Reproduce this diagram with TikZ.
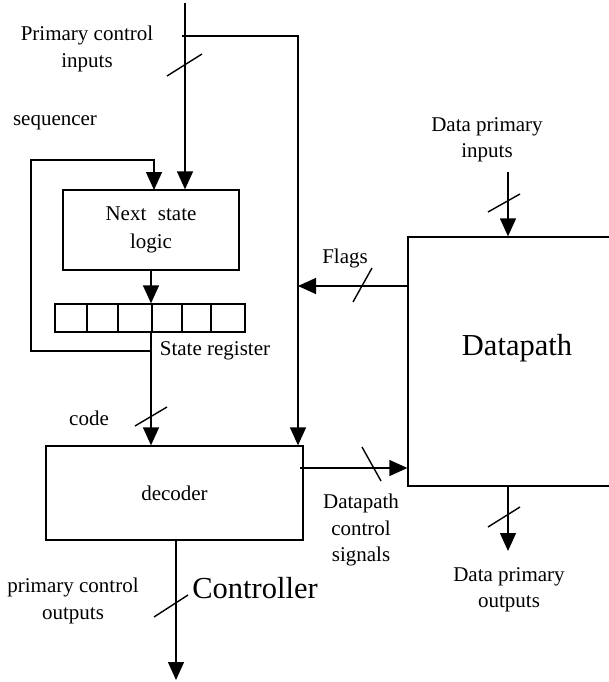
\documentclass[tikz,border=0pt]{standalone}
\usepackage{fontspec}
\setmainfont{Liberation Serif}
\usetikzlibrary{arrows.meta,calc}
\tikzset{
  box/.style={draw, line width=1.3pt, inner sep=0pt, align=center, font=\small},
  wire/.style={line width=1.4pt},
  arr/.style={line width=1.4pt, -{Triangle[length=18pt,width=16pt]}},
  tick/.style={line width=1.4pt},
  lbl/.style={inner sep=0pt, align=center, font=\small},
  big/.style={inner sep=0pt, font=\large},
}
\renewcommand{\small}{\fontsize{21}{26.5}\selectfont}
\renewcommand{\large}{\fontsize{30.5}{34}\selectfont}
\begin{document}
\begin{tikzpicture}[x=1pt,y=-1pt]
\useasboundingbox (0,0) rectangle (609,682);
\clip (0,0) rectangle (609,682);
% boxes
\node[box, minimum width=176pt, minimum height=80pt] (ns) at (151,230) {Next\hspace{0.55em}state\\[1pt]logic};
\node[box, minimum width=190pt, minimum height=28pt] (reg) at (150,318) {};
\foreach \x in {87,118,152,182,211} \draw[line width=1.3pt] (\x,304) -- (\x,332);
\node[box, minimum width=257pt, minimum height=94pt] (dec) at (174.5,493) {decoder};
\node[box, minimum width=218pt, minimum height=249pt] (dp) at (517,361.5) {};
\node[big] (dpl) at (517,348) {Datapath};
% coordinates
\coordinate (pin) at (185,3);
\coordinate (brl) at (182,36);
\coordinate (ctl) at (298,36);
\coordinate (fbj) at (151,351);
\coordinate (fbc) at (31,160);
\coordinate (fbt) at (154,190);
\coordinate (fl) at (298,286);
\coordinate (dcs) at (300,468);
\coordinate (din) at (508,172);
\coordinate (dout) at (508,551);
\coordinate (out) at (176,680);
% connectors
\draw[arr] (pin) -- (pin |- ns.north);
\draw[arr] (brl) -| (ctl |- dec.north);
\draw[arr] (fbj) -| (fbc) -| (fbt);
\draw[arr] (ns.south) -- (ns.south |- reg.north);
\draw[arr] (ns.south |- reg.south) -- (ns.south |- dec.north);
\draw[arr] (out |- dec.south) -- (out);
\draw[arr] (dp.west |- fl) -- (fl);
\draw[arr] (dcs) -- (dcs -| dp.west);
\draw[arr] (din) -- (din |- dp.north);
\draw[arr] (din |- dp.south) -- (dout);
% bus slashes
\draw[tick] (167,76) -- (202,54);
\draw[tick] (135,426) -- (167,407);
\draw[tick] (353,302) -- (372,268);
\draw[tick] (362,447) -- (381,481);
\draw[tick] (488,212) -- (520,194);
\draw[tick] (488,527) -- (520,507);
\draw[tick] (154,617) -- (188,595);
% labels
\node[lbl] (pci) at (87,49) {Primary control\\inputs};
\node[lbl] (seq) at (55,123) {sequencer};
\node[lbl] (sreg) at (215,351) {State register};
\node[lbl] (code) at (89,418) {code};
\node[lbl] (flags) at (345,258) {Flags};
\node[lbl] (dcsl) at (361,530) {Datapath\\control\\signals};
\node[lbl] (pco) at (73,601) {primary control\\outputs};
\node[big] (ctrl) at (255,588) {Controller};
\node[lbl] (dpo) at (509,590) {Data primary\\outputs};
\node[lbl] (dpi) at (487,140) {Data primary\\inputs};
\end{tikzpicture}
\end{document}
